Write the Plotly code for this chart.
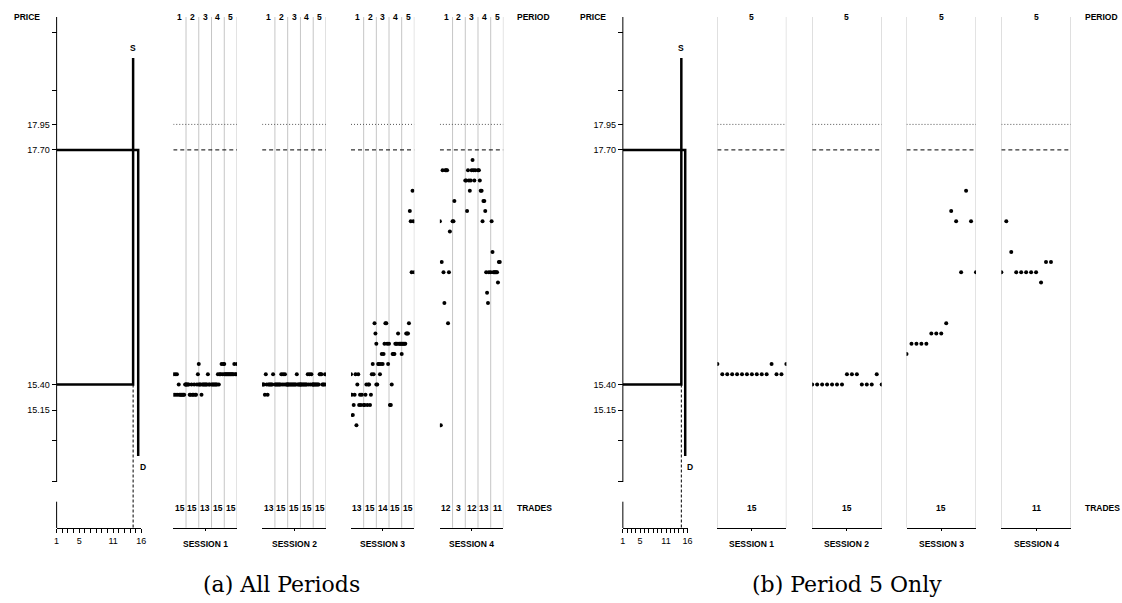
import plotly.graph_objects as go

W, H = 1122, 603

# ---------------- data ----------------
SESSION_NAMES = ["SESSION 1", "SESSION 2", "SESSION 3", "SESSION 4"]
PERIOD_LABELS = ["1", "2", "3", "4", "5"]
MAX_TRADES = 15

session1_prices = [
    [15.50, 15.30, 15.50, 15.30, 15.50, 15.30, 15.40, 15.30, 15.30, 15.30, 15.30, 15.30, 15.30, 15.40, 15.40],
    [15.40, 15.40, 15.40, 15.40, 15.30, 15.30, 15.40, 15.30, 15.30, 15.40, 15.30, 15.30, 15.40, 15.50, 15.40],
    [15.60, 15.40, 15.40, 15.30, 15.40, 15.40, 15.40, 15.40, 15.40, 15.40, 15.50, 15.40, 15.40],
    [15.40, 15.40, 15.40, 15.40, 15.40, 15.40, 15.40, 15.50, 15.40, 15.50, 15.50, 15.60, 15.50, 15.60, 15.50],
    [15.60, 15.50, 15.50, 15.50, 15.50, 15.50, 15.50, 15.50, 15.50, 15.50, 15.50, 15.60, 15.50, 15.50, 15.60],
]
session2_prices = [
    [15.40, 15.40, 15.40, 15.30, 15.50, 15.40, 15.30, 15.40, 15.40, 15.40, 15.40, 15.40, 15.50],
    [15.40, 15.40, 15.40, 15.40, 15.40, 15.40, 15.40, 15.50, 15.40, 15.50, 15.40, 15.50, 15.40, 15.40, 15.40],
    [15.40, 15.40, 15.40, 15.40, 15.40, 15.40, 15.40, 15.40, 15.40, 15.40, 15.50, 15.40, 15.40, 15.40, 15.40],
    [15.40, 15.40, 15.40, 15.40, 15.40, 15.40, 15.40, 15.40, 15.50, 15.40, 15.50, 15.40, 15.50, 15.40, 15.40],
    [15.40, 15.40, 15.40, 15.40, 15.40, 15.40, 15.40, 15.50, 15.50, 15.50, 15.40, 15.40, 15.40, 15.50, 15.40],
]
session3_prices = [
    [15.50, 15.30, 15.10, 15.20, 15.30, 15.50, 15.00, 15.40, 15.50, 15.20, 15.30, 15.20, 15.30],
    [15.20, 15.20, 15.30, 15.40, 15.20, 15.40, 15.40, 15.20, 15.30, 15.50, 15.60, 15.50, 16.00, 15.90, 15.80],
    [15.40, 15.40, 15.60, 15.60, 15.50, 15.60, 15.70, 15.60, 15.70, 15.80, 16.00, 16.00, 15.80, 15.60],
    [15.80, 15.20, 15.20, 15.40, 15.70, 15.70, 15.70, 15.80, 15.80, 15.80, 15.90, 15.80, 15.80, 15.80, 15.80],
    [15.70, 15.80, 15.80, 15.80, 15.80, 15.90, 15.90, 15.90, 16.00, 17.10, 17.00, 16.50, 17.30, 17.00, 16.50],
]
session4_prices = [
    [17.00, 15.00, 16.60, 17.50, 16.50, 16.20, 17.50, 17.50, 17.50, 16.00, 16.50, 16.90],
    [17.00, 17.00, 17.20],
    [17.40, 17.40, 17.10, 17.50, 17.40, 17.30, 17.40, 17.50, 17.60, 17.50, 17.40, 17.50],
    [17.50, 17.50, 17.40, 17.30, 17.30, 17.00, 17.20, 17.20, 17.10, 16.50, 16.30, 16.20, 16.50],
    [16.50, 17.00, 16.70, 16.50, 16.50, 16.50, 16.50, 16.50, 16.40, 16.60, 16.60],
]
SESSIONS = [session1_prices, session2_prices, session3_prices, session4_prices]

PRICE_TICKS = [17.95, 17.70, 15.40, 15.15]
PRICE_TICK_LABELS = ["17.95", "17.70", "15.40", "15.15"]
MINOR_PRICE_TICKS = [18.85, 18.28, 14.85, 14.45]

DOTTED_PRICE = 17.95
DASHED_PRICE = 17.70

SUPPLY_X = [1, 14.55, 14.55]
SUPPLY_Y = [15.40, 15.40, 18.60]
DEMAND_X = [1, 15.45, 15.45]
DEMAND_Y = [17.70, 17.70, 14.70]
UNIT_TICKS = list(range(1, 17))
UNIT_TICK_LABELS = ["1", "", "", "", "5", "", "", "", "", "", "11", "", "", "", "", "16"]

# ---------------- helpers (pixel -> paper) ----------------
def fx(px):
    return px / W

def fy(py):
    return 1 - py / H

PX_PER_PRICE = 102.0
ANCHOR_PRICE, ANCHOR_PY = 15.40, 384.5
Y_RANGE = [ANCHOR_PRICE - (H - ANCHOR_PY) / PX_PER_PRICE, ANCHOR_PRICE + ANCHOR_PY / PX_PER_PRICE]

def price_at_px(py):
    return ANCHOR_PRICE + (ANCHOR_PY - py) / PX_PER_PRICE

SANS = "Liberation Sans, Arial, sans-serif"
BOLD = dict(family=SANS, size=8.5, color="black", weight="bold")
REG = dict(family=SANS, size=9, color="black")
GRAY = "#c6c6c6"

TOP_PY = 17
AXIS_PY = 527.7
TRADES_PY = 507.5
SESSION_PY = 543.5

panels = [
    dict(left_ax=(54, 139.3), sessions=[(171.5, 235.7), (261, 325.3), (350.5, 414.3), (440, 504)],
         periods=PERIOD_LABELS, label_left=516, price_x=24.5, caption="(a) All Periods", cap_x=281),
    dict(left_ax=(624.3, 689.5), sessions=[(719.5, 789), (815, 885), (910, 980), (1005.5, 1075.5)],
         periods=[PERIOD_LABELS[4]], label_left=1088, price_x=594.5, caption="(b) Period 5 Only", cap_x=850),
]

fig = go.Figure()
layout = dict(width=W, height=H, margin=dict(l=0, r=0, t=0, b=0), autosize=False,
              paper_bgcolor="white", plot_bgcolor="rgba(0,0,0,0)", showlegend=False)
shapes, annotations = [], []

ax_id = 1
for pi, panel in enumerate(panels):
    yname = "y" if pi == 0 else "y2"
    ykey = "yaxis" if pi == 0 else "yaxis2"
    l0, l1 = panel["left_ax"]
    # price axis
    yax = dict(domain=[0, 1], range=Y_RANGE, anchor="free", position=fx(l0), side="left",
               showline=False, showgrid=False, zeroline=False, ticks="outside", ticklen=5,
               tickwidth=1, tickcolor="black", tickvals=PRICE_TICKS + MINOR_PRICE_TICKS,
               ticktext=PRICE_TICK_LABELS + [""] * len(MINOR_PRICE_TICKS), tickfont=REG,
               fixedrange=True)
    if pi == 1:
        yax["overlaying"] = "y"
    layout[ykey] = yax

    # left supply/demand panel
    xn = "x" if ax_id == 1 else f"x{ax_id}"
    xk = "xaxis" if ax_id == 1 else f"xaxis{ax_id}"
    layout[xk] = dict(domain=[fx(l0), fx(l1)], range=[UNIT_TICKS[0], UNIT_TICKS[-1]], anchor="free",
                      position=fy(528), showline=True, linecolor="black", linewidth=1,
                      ticks="outside", ticklen=4, tickwidth=1, tickcolor="black",
                      tickvals=UNIT_TICKS, ticktext=UNIT_TICK_LABELS, tickfont=REG,
                      showgrid=False, zeroline=False, fixedrange=True)
    fig.add_trace(go.Scatter(x=SUPPLY_X, y=SUPPLY_Y, mode="lines", xaxis=xn, yaxis=yname,
                             line=dict(color="black", width=2.5), hoverinfo="skip"))
    fig.add_trace(go.Scatter(x=DEMAND_X, y=DEMAND_Y, mode="lines", xaxis=xn, yaxis=yname,
                             line=dict(color="black", width=2.5), hoverinfo="skip"))
    shapes.append(dict(type="line", xref=xn, yref=yname, x0=SUPPLY_X[1], x1=SUPPLY_X[1],
                       y0=SUPPLY_Y[1], y1=price_at_px(528),
                       line=dict(color="black", width=1, dash="3px,2px")))
    # y axis line (broken)
    for a, b in [(TOP_PY, 482), (501.7, 528)]:
        shapes.append(dict(type="line", xref="paper", yref="paper", x0=fx(l0), x1=fx(l0),
                           y0=fy(a), y1=fy(b), line=dict(color="black", width=1)))
    annotations.append(dict(text="S", x=SUPPLY_X[-1], xref=xn, y=fy(48), yref="paper",
                            showarrow=False, font=BOLD, xanchor="center", yanchor="middle"))
    annotations.append(dict(text="D", x=DEMAND_X[-1], xref=xn, y=fy(467), yref="paper",
                            showarrow=False, font=BOLD, xanchor="left", yanchor="middle"))
    annotations.append(dict(text="PRICE", x=fx(panel["price_x"]), xref="paper", y=fy(TOP_PY),
                            yref="paper", showarrow=False, font=BOLD, xanchor="center",
                            yanchor="middle"))
    ax_id += 1

    nper = len(panel["periods"])
    for si, (s0, s1) in enumerate(panel["sessions"]):
        xn = f"x{ax_id}"
        xk = f"xaxis{ax_id}"
        layout[xk] = dict(domain=[fx(s0), fx(s1)], range=[0, nper], anchor="free",
                          position=fy(AXIS_PY), showline=True, linecolor="black", linewidth=1,
                          ticks="outside", ticklen=2, tickwidth=1, tickcolor="black",
                          tickvals=[nper / 2], showticklabels=False, showgrid=False,
                          zeroline=False, fixedrange=True)
        periods_data = SESSIONS[si] if nper == 5 else [SESSIONS[si][4]]
        xs, ys = [], []
        for p, prices in enumerate(periods_data):
            for i, v in enumerate(prices):
                xs.append(p + i / (MAX_TRADES - 1))
                ys.append(v)
            annotations.append(dict(text=str(len(prices)), x=p + 0.5, xref=xn, y=fy(TRADES_PY),
                                    yref="paper", showarrow=False, font=BOLD,
                                    xanchor="center", yanchor="middle"))
            annotations.append(dict(text=panel["periods"][p], x=p + 0.5, xref=xn, y=fy(TOP_PY),
                                    yref="paper", showarrow=False, font=BOLD,
                                    xanchor="center", yanchor="middle"))
        fig.add_trace(go.Scatter(x=xs, y=ys, mode="markers", xaxis=xn, yaxis=yname,
                                 marker=dict(color="black", size=4, line=dict(width=0)),
                                 hoverinfo="skip"))
        grid_x = list(range(1, nper + 1)) if nper > 1 else [0, 1]
        for gx in grid_x:
            shapes.append(dict(type="line", xref=xn, yref="paper", x0=gx, x1=gx,
                               y0=fy(AXIS_PY), y1=fy(TOP_PY), layer="below",
                               line=dict(color=GRAY, width=1)))
        shapes.append(dict(type="line", xref=xn, yref=yname, x0=0, x1=nper,
                           y0=DOTTED_PRICE, y1=DOTTED_PRICE,
                           line=dict(color="#555555", width=1, dash="1px,2px")))
        shapes.append(dict(type="line", xref=xn, yref=yname, x0=0, x1=nper,
                           y0=DASHED_PRICE, y1=DASHED_PRICE,
                           line=dict(color="black", width=1, dash="4px,3px")))
        annotations.append(dict(text=SESSION_NAMES[si], x=nper / 2, xref=xn, y=fy(SESSION_PY),
                                yref="paper", showarrow=False, font=BOLD,
                                xanchor="center", yanchor="middle"))
        ax_id += 1

    for txt, py in [("PERIOD", TOP_PY), ("TRADES", TRADES_PY)]:
        annotations.append(dict(text=txt, x=fx(panel["label_left"]), xref="paper", y=fy(py),
                                yref="paper", showarrow=False, font=BOLD,
                                xanchor="left", yanchor="middle"))
    annotations.append(dict(text=panel["caption"], x=fx(panel["cap_x"]), xref="paper",
                            y=fy(584), yref="paper", showarrow=False,
                            font=dict(family="DejaVu Serif, serif", size=22, color="black"),
                            xanchor="center", yanchor="middle"))

layout["shapes"] = shapes
layout["annotations"] = annotations
fig.update_layout(**layout)
fig.write_html("out.html", config={"displayModeBar": False, "staticPlot": True},
               post_script="document.body.style.margin='0';document.body.style.overflow='hidden';")
